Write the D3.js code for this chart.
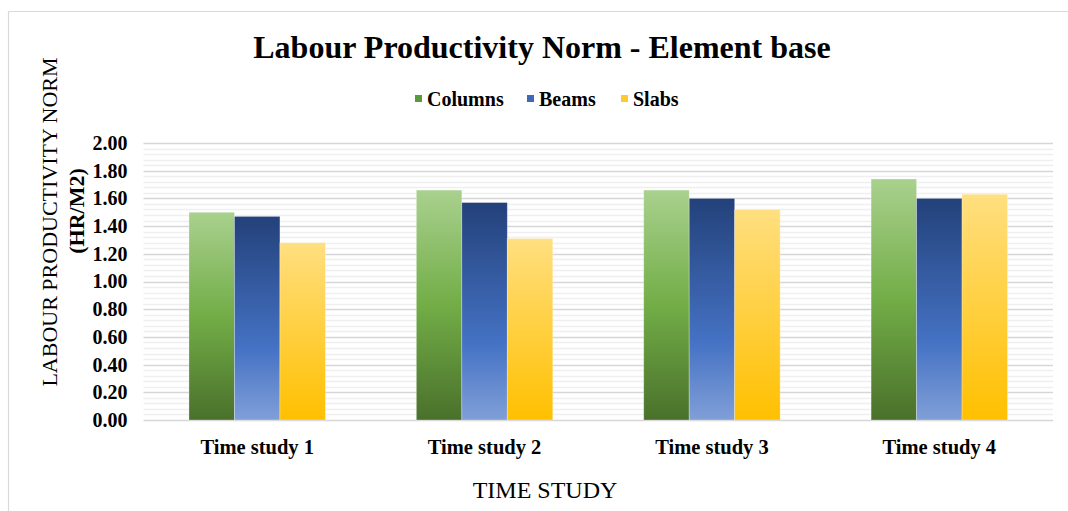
<!DOCTYPE html>
<html>
<head>
<meta charset="utf-8">
<script src="https://cdn.jsdelivr.net/npm/d3@7"></script>
<style>
  html, body { margin: 0; padding: 0; background: #fff; }
  svg { display: block; }
  text { font-family: "Liberation Serif", "Times New Roman", serif; fill: #000; }
</style>
</head>
<body>
<svg id="chart" width="1068" height="511"></svg>
<script>
const categories = ["Time study 1", "Time study 2", "Time study 3", "Time study 4"];
const seriesNames = ["Columns", "Beams", "Slabs"];
const columns = [1.50, 1.66, 1.66, 1.74];
const beams = [1.47, 1.57, 1.60, 1.60];
const slabs = [1.28, 1.31, 1.52, 1.63];
const yTicks = [0, 0.2, 0.4, 0.6, 0.8, 1.0, 1.2, 1.4, 1.6, 1.8, 2.0];
const yMinorStep = 0.04;
const titleText = "Labour Productivity Norm - Element base";
const yTitle1 = "LABOUR PRODUCTIVITY NORM";
const yTitle2 = "(HR/M2)";
const xTitle = "TIME STUDY";

const seriesValues = [columns, beams, slabs];
const gradients = [
  [["0%", "#a9d18e"], ["50%", "#72ad47"], ["100%", "#4a712b"]],
  [["0%", "#23417a"], ["65%", "#4572c4"], ["100%", "#809fd8"]],
  [["0%", "#ffdf80"], ["100%", "#ffc000"]]
];
const legendColors = ["#5b9a3a", "#3f68b5", "#ffca2c"];

const svg = d3.select("#chart");
const W = 1068, H = 511;
const plot = { left: 143.5, right: 1053, top: 143, bottom: 420 };

// frame (only left and top visible)
svg.append("line").attr("x1", 8.5).attr("x2", W).attr("y1", 11.5).attr("y2", 11.5)
  .attr("stroke", "#d9d9d9").attr("stroke-width", 1.2);
svg.append("line").attr("x1", 8.5).attr("x2", 8.5).attr("y1", 11.5).attr("y2", H)
  .attr("stroke", "#d9d9d9").attr("stroke-width", 1.2);

const defs = svg.append("defs");
gradients.forEach((stops, i) => {
  const g = defs.append("linearGradient").attr("id", "grad" + i)
    .attr("x1", 0).attr("y1", 0).attr("x2", 0).attr("y2", 1);
  stops.forEach(s => g.append("stop").attr("offset", s[0]).attr("stop-color", s[1]));
});

const x0 = d3.scaleBand().domain(categories).range([plot.left, plot.right])
  .paddingInner(0.4).paddingOuter(0.2);
const x1 = d3.scaleBand().domain(seriesNames).range([0, x0.bandwidth()]).padding(0);
const y = d3.scaleLinear().domain([0, 2]).range([plot.bottom, plot.top]);

// minor gridlines
const minor = d3.range(0, 2.0001, yMinorStep).filter(v => Math.abs(v / 0.2 - Math.round(v / 0.2)) > 1e-6);
svg.append("g").selectAll("line").data(minor).join("line")
  .attr("x1", plot.left).attr("x2", plot.right)
  .attr("y1", d => Math.round(y(d)) + 0.5).attr("y2", d => Math.round(y(d)) + 0.5)
  .attr("stroke", "#efefef").attr("stroke-width", 1.5);

// major gridlines
svg.append("g").selectAll("line").data(yTicks).join("line")
  .attr("x1", plot.left).attr("x2", plot.right)
  .attr("y1", d => Math.round(y(d)) + 0.5).attr("y2", d => Math.round(y(d)) + 0.5)
  .attr("stroke", "#d6d6d6").attr("stroke-width", 1.6);

// bars
const barData = [];
categories.forEach((c, ci) => {
  seriesNames.forEach((s, si) => {
    barData.push({ cat: c, series: s, si: si, value: seriesValues[si][ci] });
  });
});
svg.append("g").selectAll("rect").data(barData).join("rect")
  .attr("x", d => x0(d.cat) + x1(d.series))
  .attr("y", d => y(d.value))
  .attr("width", x1.bandwidth())
  .attr("height", d => y(0) - y(d.value))
  .attr("fill", d => `url(#grad${d.si})`)
  .attr("stroke", "rgba(255,255,255,0.35)")
  .attr("stroke-width", 0.8);

// y axis
const yAxis = svg.append("g").attr("transform", `translate(${plot.left},0)`)
  .call(d3.axisLeft(y).tickValues(yTicks).tickFormat(d3.format(".2f")).tickSize(0).tickPadding(16));
yAxis.select(".domain").remove();
yAxis.selectAll("text").style("font-family", "Liberation Serif").style("font-weight", "bold")
  .style("font-size", "20px").attr("fill", "#000");

// x axis
const xAxis = svg.append("g").attr("transform", `translate(0,${plot.bottom})`)
  .call(d3.axisBottom(x0).tickSize(0).tickPadding(19));
xAxis.select(".domain").remove();
xAxis.selectAll("text").style("font-family", "Liberation Serif").style("font-weight", "bold")
  .style("font-size", "20.5px").attr("fill", "#000");

// title
svg.append("text").attr("x", 542).attr("y", 58).attr("text-anchor", "middle")
  .style("font-size", "32px").style("font-weight", "bold").text(titleText);

// legend
const legendItems = [
  { name: seriesNames[0], x: 415 },
  { name: seriesNames[1], x: 527 },
  { name: seriesNames[2], x: 621 }
];
const lg = svg.append("g");
legendItems.forEach((it, i) => {
  lg.append("rect").attr("x", it.x).attr("y", 95).attr("width", 7).attr("height", 7)
    .attr("fill", legendColors[i]);
  lg.append("text").attr("x", it.x + 12).attr("y", 105.5)
    .style("font-size", "20px").style("font-weight", "bold").text(it.name);
});

// y title
const yt = svg.append("text").attr("transform", `translate(57,222) rotate(-90)`)
  .attr("text-anchor", "middle").style("font-size", "22px");
yt.append("tspan").attr("x", 0).attr("dy", 0).text(yTitle1);
yt.append("tspan").attr("x", 11).attr("dy", 27).style("font-weight", "bold").text(yTitle2);

// x title
svg.append("text").attr("x", 545).attr("y", 498).attr("text-anchor", "middle")
  .style("font-size", "24px").text(xTitle);
</script>
</body>
</html>
